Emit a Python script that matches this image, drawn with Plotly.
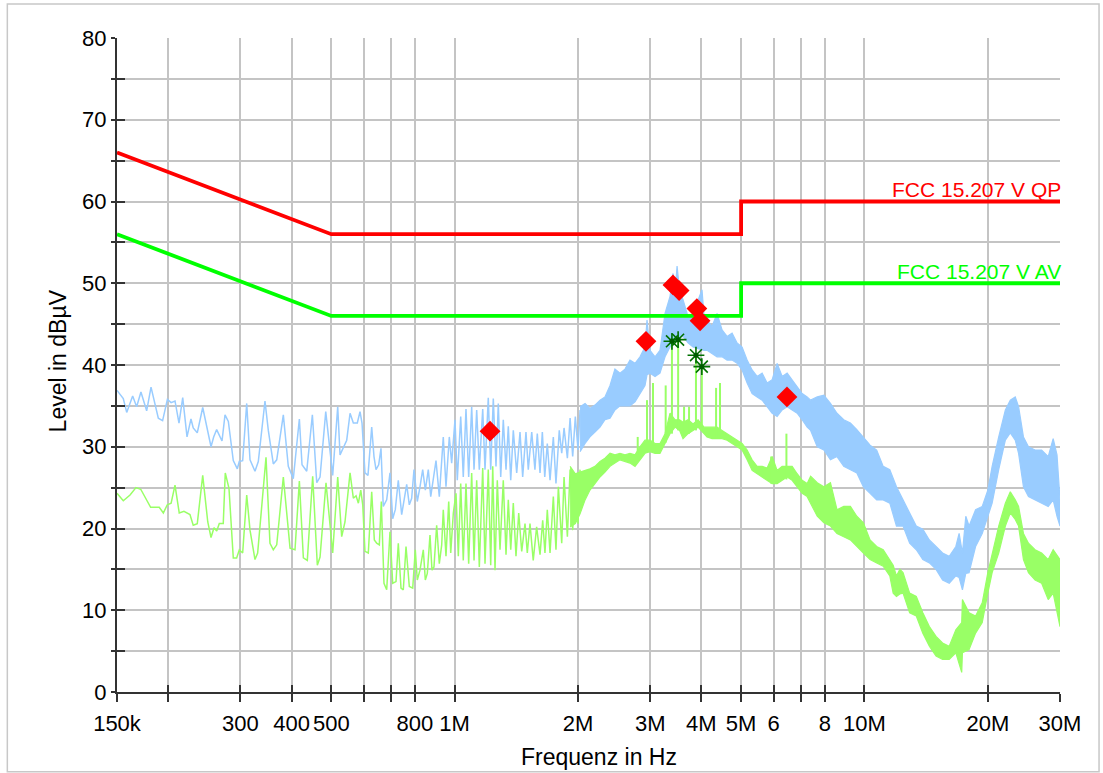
import math
import plotly.graph_objects as go

# ---------------------------------------------------------------------------
# Peak detector pre-scan (light blue): individual sweep points up to 2 MHz
# frequency in kHz, level in dBµV
pk_freq_khz = [
    150, 155.4, 158.4, 163.8, 167.5, 171.6, 177.2, 181.6, 189.2, 193.8,
    199.1, 203.3, 207.8, 212.5, 217.0, 222.3, 227.3, 230.2, 235.5, 242.8,
    254.4, 258.2, 262.6, 270.6, 275.2, 280.4, 288.3, 294.9, 298.2, 303.9,
    310.9, 316.7, 325.7, 331.8, 344.5, 351.0, 361.0, 368.0, 381.9, 392.7,
    403.9, 417.9, 424.2, 435.6, 449.6, 460.8, 469.4, 484.7, 504.0, 518.4,
    525.2, 545.3, 555.6, 566.0, 578.7, 587.6, 594.2, 604.2, 614.5, 627.5,
    635.6, 642.8, 652.6, 661.1, 669.6, 682.6, 695.4, 706.0, 716.4, 728.6,
    742.6, 752.3, 763.8, 775.1, 785.5, 795.8, 810.6, 823.0, 835.6, 848.1,
    862.4, 874.2, 887.0, 900.5, 917.4, 929.8, 938.1, 952.5, 970.4, 983.4,
    1001.9, 1015, 1034.6, 1049.7, 1065.8, 1082, 1100.4, 1115, 1131.8, 1148.6,
    1170.8, 1186, 1208, 1224.6, 1242.5, 1261.5, 1277.9, 1295.4, 1314.3, 1334.5,
    1351.8, 1370.4, 1390.3, 1417, 1443.8, 1465.5, 1493, 1512.5, 1542, 1570,
    1591, 1615.6, 1636.6, 1659, 1683, 1709, 1741, 1767, 1800, 1825,
    1849, 1884, 1913, 1941, 1970, 2000, 2023,
]
pk_level = [
    36.9, 35.9, 34.2, 36.2, 34.9, 36.7, 34.4, 37.3, 33.5, 33.2,
    35.8, 35.4, 35.6, 32.9, 36.0, 31.2, 33.4, 32.3, 31.7, 34.8,
    30.0, 31.2, 32.1, 30.7, 33.9, 33.1, 28.3, 27.3, 28.2, 28.3,
    35.3, 28.4, 27.0, 28.2, 35.6, 32.0, 27.9, 28.4, 33.9, 27.6,
    26.1, 33.4, 27.8, 27.0, 33.9, 25.6, 26.3, 34.3, 26.5, 34.9,
    29.0, 30.8, 34.1, 32.9, 32.9, 34.3, 32.9, 26.8, 26.5, 32.4,
    28.8, 27.2, 27.8, 29.8, 22.7, 23.5, 26.8, 21.2, 22.3, 25.9,
    21.7, 23.7, 25.4, 22.9, 23.7, 27.2, 23.3, 25.1, 27.2, 24.7,
    27.2, 23.9, 26.3, 28.3, 23.9, 28.0, 31.2, 25.1, 31.2, 28.0,
    33.3, 25.9, 33.7, 26.3, 34.6, 26.3, 34.9, 27.2, 34.5, 27.2,
    34.6, 27.2, 36.0, 27.2, 35.9, 27.6, 35.3, 26.3, 33.3, 27.2,
    32.5, 25.9, 32.0, 26.8, 31.8, 26.3, 31.8, 27.2, 31.8, 27.2,
    31.6, 26.8, 31.8, 26.3, 30.4, 25.9, 31.2, 25.5, 32.0, 29.2,
    32.3, 28.6, 33.5, 28.8, 33.7, 29.6, 34.5,
]

# Peak detector above 2 MHz: dense sweep, kept as upper / lower envelope (MHz)
pk_band_freq_mhz = [
    2.023, 2.081, 2.139, 2.200, 2.263, 2.327, 2.394, 2.461, 2.532, 2.604,
    2.678, 2.755, 2.833, 2.914, 2.947, 2.997, 3.083, 3.170, 3.261, 3.354,
    3.411, 3.450, 3.489, 3.540, 3.608, 3.711, 3.817, 3.926, 4.014, 4.060,
    4.129, 4.247, 4.368, 4.493, 4.621, 4.753, 4.889, 5.028, 5.172, 5.319,
    5.471, 5.627, 5.788, 5.953, 6.122, 6.297, 6.476, 6.661, 6.851, 7.046,
    7.247, 7.39, 7.67, 7.96, 8.26, 8.57, 8.90, 9.24, 9.58, 9.94,
    10.32, 10.71, 11.11, 11.53, 11.97, 12.42, 12.89, 13.38, 13.88, 14.40,
    14.95, 15.51, 16.10, 16.71, 17.02, 17.34, 17.67, 18.00, 18.67, 19.38,
    20.0, 20.49, 21.26, 22.07, 22.69, 23.33, 23.77, 24.43, 25.13, 26.08,
    27.06, 28.08, 28.87, 29.5, 30.0,
]
pk_band_hi = [
    34.9, 35.3, 34.7, 35.1, 35.7, 36.1, 37.5, 39.5, 39.0, 39.5,
    40.6, 40.2, 41.0, 42.2, 45.5, 41.8, 41.0, 41.8, 46.3, 48.4,
    51.2, 48.8, 52.1, 49.0, 48.0, 45.9, 46.3, 48.0, 49.2, 46.0,
    45.5, 44.7, 46.3, 44.3, 43.5, 43.9, 42.7, 42.2, 40.6, 39.4,
    38.6, 39.0, 37.8, 38.2, 40.2, 38.6, 39.0, 38.2, 37.3, 36.5,
    36.1, 35.7, 36.1, 36.3, 35.3, 34.1, 33.3, 32.9, 32.1, 31.2,
    30.2, 29.6, 27.6, 27.2, 25.1, 23.5, 21.9, 20.3, 19.9, 18.6,
    17.8, 17.0, 16.6, 17.8, 19.4, 17.0, 21.5, 20.3, 22.3, 22.7,
    24.7, 27.6, 31.2, 34.5, 35.7, 36.1, 34.9, 31.2, 30.0, 29.6,
    29.6, 28.8, 31.0, 29.0, 23.5,
]
pk_band_lo = [
    29.4, 30.4, 31.2, 31.8, 32.4, 33.3, 33.5, 34.5, 35.0, 35.0,
    35.0, 35.5, 36.5, 37.5, 38.8, 39.0, 38.6, 39.0, 41.0, 42.2,
    42.8, 43.0, 43.2, 43.4, 43.5, 42.7, 42.2, 42.0, 41.9, 41.8,
    41.8, 41.4, 41.0, 41.0, 40.6, 40.6, 40.2, 39.4, 37.8, 36.5,
    36.1, 35.7, 34.9, 34.1, 33.7, 34.5, 34.9, 34.5, 34.1, 33.3,
    32.4, 32.0, 30.0, 29.6, 28.4, 28.8, 27.6, 27.2, 26.8, 25.1,
    24.3, 23.5, 23.5, 23.1, 20.3, 20.3, 18.2, 17.4, 16.2, 15.8,
    15.0, 13.7, 13.3, 14.2, 14.0, 12.5, 14.5, 14.6, 17.8, 19.4,
    21.5, 23.1, 27.2, 30.8, 31.7, 30.8, 29.2, 25.1, 23.9, 23.5,
    23.1, 22.7, 23.5, 21.5, 20.3,
]

# ---------------------------------------------------------------------------
# Average detector pre-scan (light green): individual points up to 2 MHz
av_freq_khz = [
    150, 155.4, 161.4, 166.9, 171.4, 181.2, 190.2, 194.6, 199.0, 203.3,
    207.8, 212.8, 218.5, 226.0, 230.2, 235.5, 242.8, 249.8, 254.4, 258.7,
    262.7, 266.5, 272.5, 275.6, 281.4, 288.3, 293.8, 298.2, 303.9, 310.9,
    316.7, 325.7, 330.6, 346.5, 354.3, 361.0, 368.0, 381.9, 396.6, 407.8,
    417.9, 427.4, 437.0, 450.4, 462.3, 469.4, 485.4, 504.0, 518.4, 530.1,
    540.0, 555.6, 566.0, 574.7, 582.2, 590.1, 596.7, 604.2, 615.6, 627.5,
    636.8, 645.3, 654.9, 662.3, 672.3, 682.6, 695.4, 706.0, 719.3, 728.6,
    739.8, 749.4, 760.9, 775.1, 790.1, 801.6, 810.6, 823.0, 838.5, 848.1,
    857.6, 870.6, 880.5, 890.3, 903.9, 917.4, 929.8, 938.1, 952.5, 967.2,
    978.2, 992.6, 1007.7, 1020.8, 1034.6, 1049.7, 1065.8, 1082, 1100.4, 1115,
    1131.8, 1148.6, 1170.8, 1186, 1208, 1224.6, 1238.6, 1254.6, 1270.8, 1290.2,
    1314.3, 1334.5, 1351.8, 1370.4, 1390.3, 1411.5, 1433.3, 1457.6, 1484.9, 1504,
    1527, 1555, 1585, 1615.6, 1640, 1661, 1683, 1709, 1741, 1767,
    1791, 1825, 1849, 1884, 1913, 1941, 1967, 2000, 2023,
]
av_level = [
    24.3, 23.4, 24.1, 25.0, 24.8, 22.6, 22.6, 21.9, 22.9, 23.1,
    25.3, 21.9, 22.1, 21.7, 20.4, 20.6, 26.5, 20.8, 18.9, 20.1,
    19.7, 20.6, 20.6, 26.8, 24.9, 16.4, 16.4, 17.4, 17.0, 24.1,
    19.8, 16.2, 17.0, 28.7, 18.2, 17.4, 18.0, 26.3, 17.6, 17.4,
    25.8, 16.4, 16.1, 26.4, 15.5, 16.5, 25.6, 17.0, 26.3, 19.0,
    20.8, 26.8, 23.7, 24.0, 23.1, 24.7, 22.9, 17.2, 17.0, 24.5,
    18.6, 18.2, 18.0, 23.3, 13.3, 12.5, 19.6, 13.3, 13.5, 18.2,
    12.7, 12.5, 17.8, 12.9, 12.7, 17.4, 13.7, 14.9, 17.4, 13.7,
    14.5, 19.2, 14.9, 15.3, 20.4, 15.7, 18.0, 22.3, 16.6, 23.3,
    17.0, 21.9, 24.3, 16.6, 25.5, 16.1, 25.5, 15.7, 26.8, 16.1,
    25.9, 15.3, 27.4, 15.7, 27.2, 15.5, 27.6, 14.9, 25.9, 17.4,
    25.9, 16.8, 23.5, 17.4, 23.1, 16.6, 21.9, 17.2, 20.6, 17.0,
    20.6, 16.1, 20.2, 16.8, 21.0, 17.0, 22.3, 17.0, 23.9, 17.4,
    25.1, 18.2, 26.3, 19.0, 27.2, 19.8, 26.3, 20.6, 27.2,
]

# Average detector above 1.9 MHz: upper / lower envelope (MHz)
av_band_freq_mhz = [
    1.913, 1.970, 2.023, 2.081, 2.139, 2.200, 2.263, 2.327, 2.394, 2.461,
    2.532, 2.604, 2.678, 2.755, 2.833, 2.914, 2.997, 3.083, 3.170, 3.261,
    3.354, 3.450, 3.540, 3.608, 3.711, 3.817, 3.926, 4.060, 4.129, 4.247,
    4.368, 4.493, 4.621, 4.753, 4.889, 5.028, 5.172, 5.319, 5.471, 5.627,
    5.788, 5.953, 6.122, 6.297, 6.476, 6.661, 6.851, 7.046, 7.247, 7.39,
    7.67, 7.96, 8.26, 8.57, 8.90, 9.24, 9.58, 9.94, 10.32, 10.71,
    11.11, 11.53, 11.75, 11.97, 12.2, 12.42, 12.89, 13.38, 13.88, 14.40,
    14.95, 15.51, 16.10, 16.71, 17.27, 17.34, 18.00, 18.67, 19.38, 20.0,
    20.49, 21.26, 22.07, 22.69, 23.33, 23.77, 24.43, 25.13, 26.08, 27.06,
    28.08, 28.87, 30.0,
]
av_band_hi = [
    27.6, 26.7, 26.9, 27.1, 27.3, 27.6, 28.2, 28.6, 29.2, 29.0,
    29.2, 29.0, 29.2, 29.0, 30.0, 30.8, 30.8, 30.4, 30.4, 31.6,
    34.1, 33.3, 33.3, 33.0, 33.3, 32.8, 33.3, 32.4, 32.4, 32.4,
    32.4, 32.0, 31.6, 31.2, 30.8, 30.4, 29.6, 28.4, 27.6, 27.6,
    27.4, 28.8, 27.1, 27.6, 27.6, 27.6, 26.7, 25.9, 25.5, 26.4,
    25.6, 25.1, 25.6, 22.3, 22.7, 22.7, 21.5, 20.7, 18.6, 17.8,
    17.4, 16.2, 15.5, 14.2, 15.0, 14.6, 12.1, 11.7, 9.7, 8.0,
    6.8, 6.0, 5.6, 7.6, 8.5, 11.3, 9.7, 9.3, 10.9, 14.6,
    17.0, 20.3, 23.1, 24.5, 23.5, 22.7, 19.4, 18.2, 17.4, 17.0,
    16.2, 17.4, 16.2,
]
av_band_lo = [
    20.2, 20.6, 21.8, 23.5, 24.7, 25.5, 26.3, 26.9, 27.6, 28.0,
    28.4, 28.2, 28.0, 27.6, 28.4, 29.2, 29.4, 29.2, 29.2, 30.4,
    31.6, 32.4, 32.0, 31.0, 31.6, 32.0, 32.4, 31.6, 31.2, 31.0,
    31.0, 31.0, 30.8, 30.4, 30.0, 29.6, 28.4, 27.1, 26.7, 26.3,
    25.9, 25.5, 25.5, 25.9, 26.3, 25.9, 25.1, 24.3, 23.9, 23.1,
    21.5, 20.7, 20.3, 19.4, 19.0, 18.6, 17.8, 17.0, 16.2, 15.8,
    15.4, 14.2, 12.1, 11.7, 12.0, 12.1, 9.7, 9.3, 7.2, 5.6,
    4.4, 4.0, 4.0, 4.8, 2.4, 4.8, 5.2, 7.2, 8.5, 12.1,
    14.6, 17.0, 20.3, 21.9, 21.1, 20.3, 16.2, 14.6, 13.7, 13.3,
    11.3, 12.1, 8.0,
]

# Narrow carrier lines standing out of the average sweep (MHz)
av_spike_freq_mhz = [2.797, 2.947, 3.048, 3.273, 3.39, 3.51, 3.629, 3.732,
                     3.88, 4.01, 4.344, 4.441, 5.92, 6.45]
av_spike_base = [29.0, 29.5, 29.5, 30.5, 31.6, 32.0, 31.5, 31.6,
                 32.0, 32.0, 31.0, 31.0, 25.5, 26.0]
av_spike_top = [31.2, 35.7, 37.8, 37.5, 42.9, 43.1, 34.9, 34.9,
                41.2, 39.8, 37.2, 37.8, 28.8, 31.6]

# ---------------------------------------------------------------------------
# FCC 15.207 conducted limits
limit_freq_hz = [150e3, 500e3, 5e6, 5e6, 30e6]
qp_limit = [66, 56, 56, 60, 60]
av_limit = [56, 46, 46, 50, 50]

# Final measurements: quasi-peak (diamonds) and average (asterisks)
qp_meas_freq_mhz = [1.22, 2.93, 3.41, 3.53, 3.90, 3.97, 6.47]
qp_meas_level = [31.9, 42.9, 49.8, 49.1, 46.9, 45.4, 36.1]
av_meas_freq_mhz = [3.39, 3.51, 3.88, 4.01]
av_meas_level = [42.9, 43.1, 41.2, 39.8]

# Axis ticks
freq_ticks_hz = [150e3, 200e3, 300e3, 400e3, 500e3, 600e3, 700e3, 800e3, 1e6,
                 2e6, 3e6, 4e6, 5e6, 6e6, 7e6, 8e6, 10e6, 20e6, 30e6]
freq_tick_text = ["150k", "", "300", "400", "500", "", "", "800", "1M",
                  "2M", "3M", "4M", "5M", "6", "", "8", "10M", "20M", "30M"]
level_ticks = list(range(0, 81, 5))
level_tick_text = [str(v) if v % 10 == 0 else "" for v in level_ticks]

# ---------------------------------------------------------------------------
PK_COLOR = "#99ccff"
AV_COLOR = "#99ff66"
QP_LIMIT_COLOR = "#ff0000"
AV_LIMIT_COLOR = "#00ff00"
STAR_COLOR = "#007000"
FONT = "Liberation Sans, Arial, sans-serif"
AXIS_COLOR = "#333333"
GRID_COLOR = "#c4c4c4"


def band_polygon(freq_mhz, hi, lo):
    xs = [f * 1e6 for f in freq_mhz] + [f * 1e6 for f in reversed(freq_mhz)]
    ys = list(hi) + list(reversed(lo))
    return xs, ys


def spike_segments(freq_mhz, base, top):
    xs, ys = [], []
    for f, b, t in zip(freq_mhz, base, top):
        xs += [f * 1e6, f * 1e6, None]
        ys += [b, t, None]
    return xs, ys


fig = go.Figure()

# peak sweep
fig.add_trace(go.Scatter(
    x=[f * 1e3 for f in pk_freq_khz], y=pk_level, mode="lines",
    line=dict(color=PK_COLOR, width=1.5), hoverinfo="skip"))
bx, by = band_polygon(pk_band_freq_mhz, pk_band_hi, pk_band_lo)
fig.add_trace(go.Scatter(
    x=bx, y=by, mode="lines", fill="toself", fillcolor=PK_COLOR,
    line=dict(color=PK_COLOR, width=1.2), hoverinfo="skip"))

# average sweep
fig.add_trace(go.Scatter(
    x=[f * 1e3 for f in av_freq_khz], y=av_level, mode="lines",
    line=dict(color=AV_COLOR, width=1.5), hoverinfo="skip"))
gx, gy = band_polygon(av_band_freq_mhz, av_band_hi, av_band_lo)
fig.add_trace(go.Scatter(
    x=gx, y=gy, mode="lines", fill="toself", fillcolor=AV_COLOR,
    line=dict(color=AV_COLOR, width=1.2), hoverinfo="skip"))
sx, sy = spike_segments(av_spike_freq_mhz, av_spike_base, av_spike_top)
fig.add_trace(go.Scatter(
    x=sx, y=sy, mode="lines", line=dict(color=AV_COLOR, width=2),
    hoverinfo="skip"))

# limit lines
fig.add_trace(go.Scatter(
    x=limit_freq_hz, y=qp_limit, mode="lines",
    line=dict(color=QP_LIMIT_COLOR, width=3.8), hoverinfo="skip"))
fig.add_trace(go.Scatter(
    x=limit_freq_hz, y=av_limit, mode="lines",
    line=dict(color=AV_LIMIT_COLOR, width=3.8), hoverinfo="skip"))

# final measurement markers
fig.add_trace(go.Scatter(
    x=[f * 1e6 for f in qp_meas_freq_mhz], y=qp_meas_level, mode="markers",
    marker=dict(symbol="diamond", size=16, color="#ff0000",
                line=dict(width=0)), hoverinfo="skip"))
fig.add_trace(go.Scatter(
    x=[f * 1e6 for f in av_meas_freq_mhz], y=av_meas_level, mode="markers",
    marker=dict(symbol="asterisk-open", size=14, color=STAR_COLOR,
                line=dict(color=STAR_COLOR, width=1.6)), hoverinfo="skip"))
fig.add_trace(go.Scatter(
    x=[f * 1e6 for f in av_meas_freq_mhz], y=av_meas_level, mode="markers",
    marker=dict(symbol="circle", size=5, color="#005c00",
                line=dict(width=0)), hoverinfo="skip"))

# companion axes that carry the inner half of the tick marks
fig.add_trace(go.Scatter(x=[], y=[], xaxis="x2", yaxis="y2", hoverinfo="skip"))

x_range = [math.log10(150e3), math.log10(30e6)]

fig.update_layout(
    width=1103, height=773,
    margin=dict(l=117, r=43, t=38, b=81),
    paper_bgcolor="white", plot_bgcolor="white",
    showlegend=False,
    font=dict(family=FONT, size=22, color="black"),
    xaxis=dict(
        type="log", range=x_range,
        tickmode="array", tickvals=freq_ticks_hz, ticktext=freq_tick_text,
        showgrid=True, gridcolor=GRID_COLOR, gridwidth=1.5,
        showline=True, linecolor=AXIS_COLOR, linewidth=2,
        ticks="outside", ticklen=8, tickwidth=1.5, tickcolor=AXIS_COLOR,
        tickfont=dict(family=FONT, size=22, color="black"),
        ticklabelstandoff=3,
        zeroline=False, fixedrange=True,
    ),
    yaxis=dict(
        range=[0, 80],
        tickmode="array", tickvals=level_ticks, ticktext=level_tick_text,
        showgrid=True, gridcolor=GRID_COLOR, gridwidth=1.5,
        showline=True, linecolor=AXIS_COLOR, linewidth=2,
        ticks="outside", ticklen=4, tickwidth=1.5, tickcolor=AXIS_COLOR,
        tickfont=dict(family=FONT, size=22, color="black"),
        ticklabelstandoff=0,
        zeroline=False, fixedrange=True,
    ),
    xaxis2=dict(
        type="log", range=x_range, overlaying="x", anchor="y2", side="bottom",
        tickmode="array", tickvals=freq_ticks_hz, showticklabels=False,
        showgrid=False, showline=False, zeroline=False,
        ticks="inside", ticklen=7, tickwidth=1.5, tickcolor=AXIS_COLOR,
    ),
    yaxis2=dict(
        range=[0, 80], overlaying="y", anchor="x2", side="left",
        tickmode="array", tickvals=level_ticks, showticklabels=False,
        showgrid=False, showline=False, zeroline=False,
        ticks="inside", ticklen=8, tickwidth=1.5, tickcolor=AXIS_COLOR,
    ),
)

# limit line captions
fig.add_annotation(
    x=math.log10(30e6), y=60, xref="x", yref="y", text="FCC 15.207 V QP",
    showarrow=False, xanchor="right", yanchor="middle", xshift=3, yshift=12,
    font=dict(family=FONT, size=21, color=QP_LIMIT_COLOR))
fig.add_annotation(
    x=math.log10(30e6), y=50, xref="x", yref="y", text="FCC 15.207 V AV",
    showarrow=False, xanchor="right", yanchor="middle", xshift=3, yshift=12,
    font=dict(family=FONT, size=21, color=AV_LIMIT_COLOR))

# axis titles
fig.add_annotation(
    x=0.511, y=-0.0994, xref="paper", yref="paper", text="Frequenz in Hz",
    showarrow=False, xanchor="center", yanchor="middle",
    font=dict(family=FONT, size=23, color="black"))
fig.add_annotation(
    x=-0.0626, y=0.507, xref="paper", yref="paper", text="Level in dBµV",
    showarrow=False, xanchor="center", yanchor="middle", textangle=-90,
    font=dict(family=FONT, size=23, color="black"))

# thin frame around the whole graphic
fig.add_shape(type="rect", xref="paper", yref="paper",
              x0=-0.1163, x1=1.0414, y0=-0.1219, y1=1.052,
              line=dict(color="#c8c8c8", width=1.5), fillcolor="rgba(0,0,0,0)",
              layer="below")

fig.write_html("out.html")
